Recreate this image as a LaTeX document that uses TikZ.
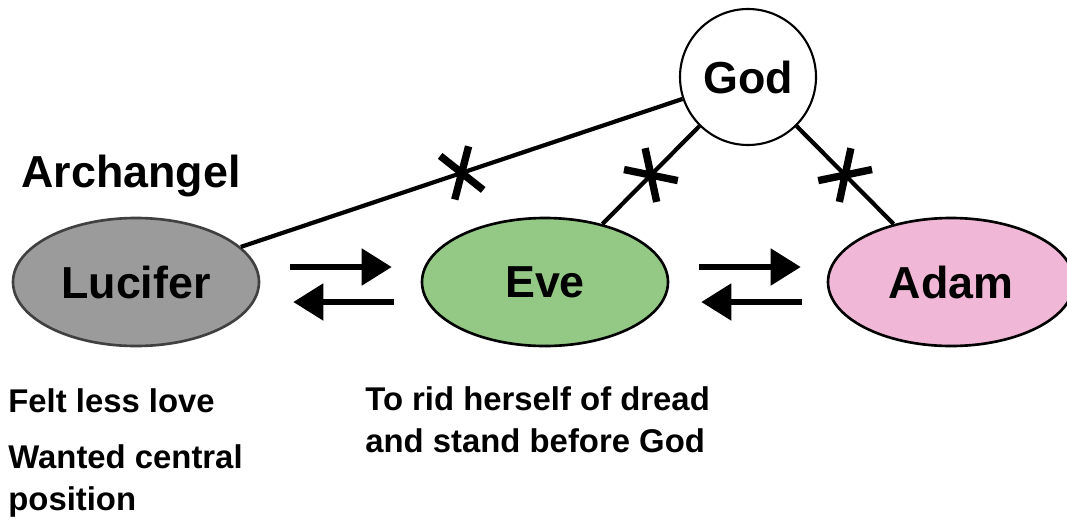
\documentclass[tikz,border=0pt]{standalone}
\usepackage{fontspec}
\setmainfont{Liberation Sans}
\usepackage{tikz}
\usepackage{xcolor}
\usetikzlibrary{shapes.geometric, arrows.meta, positioning, calc}

\definecolor{lucifergray}{HTML}{9B9B9B}
\definecolor{lucifergrayline}{HTML}{404040}
\definecolor{evegreen}{HTML}{93C985}
\definecolor{adampink}{HTML}{F0B7D6}

\begin{document}
\begin{tikzpicture}[
            being/.style={ellipse, draw=black, line width=1.5pt, minimum width=4.92cm, minimum height=2.56cm, inner sep=0pt, font=\fontsize{25.5}{30}\selectfont\bfseries},
            link/.style={line width=2.4pt},
            arrow/.style={-{Triangle[length=0.6cm,width=0.72cm]}, line width=3pt},
            note/.style={anchor=base west, inner sep=0pt, align=left, font=\fontsize{18.7}{23.8}\selectfont\bfseries},
            cut/.pic={\draw[line width=4.2pt] (-0.3,-0.46) -- (0.3,0.46) (-0.3,0.46) -- (0.3,-0.46);}
        ]
            \useasboundingbox (0,0) rectangle (21.34,10.38);

% God on top
            \node[circle, draw=black, line width=1.2pt, minimum size=2.72cm, inner sep=0pt, font=\fontsize{25.5}{30}\selectfont\bfseries] (god) at (14.96,8.84) {God};

% The three beings
            \node[being, fill=lucifergray, draw=lucifergrayline] (lucifer) at (2.72,4.74) {Lucifer};
            \node[being, fill=evegreen] (eve) at (10.9,4.74) {Eve};
            \node[being, fill=adampink] (adam) at (19.02,4.74) {Adam};

            \node[note, font=\fontsize{25.5}{30}\selectfont\bfseries] (archangel) at (0.42,6.64) {Archangel};

% Broken links to God
            \draw[link] (god) -- (lucifer) pic[pos=0.5, sloped]{cut};
            \draw[link] (god) -- (eve) pic[pos=0.5, sloped]{cut};
            \draw[link] (god) -- (adam) pic[pos=0.5, sloped]{cut};

% Exchanges
            \draw[arrow] ([shift={(0.6,0.3)}]lucifer.east) -- ([shift={(-0.58,0.3)}]eve.west);
            \draw[arrow] ([shift={(-0.54,-0.4)}]eve.west) -- ([shift={(0.66,-0.4)}]lucifer.east);
            \draw[arrow] ([shift={(0.6,0.3)}]eve.east) -- ([shift={(-0.52,0.3)}]adam.west);
            \draw[arrow] ([shift={(-0.5,-0.4)}]adam.west) -- ([shift={(0.64,-0.4)}]eve.east);

% Notes below (base is the last line)
            \node[note] (felt) at (0.16,2.14) {Felt less love};
            \node[note] (wanted) at (0.16,0.18) {Wanted central\\position};
            \node[note] (dread) at (7.3,1.34) {To rid herself of dread\\and stand before God};

        \end{tikzpicture}
\end{document}
